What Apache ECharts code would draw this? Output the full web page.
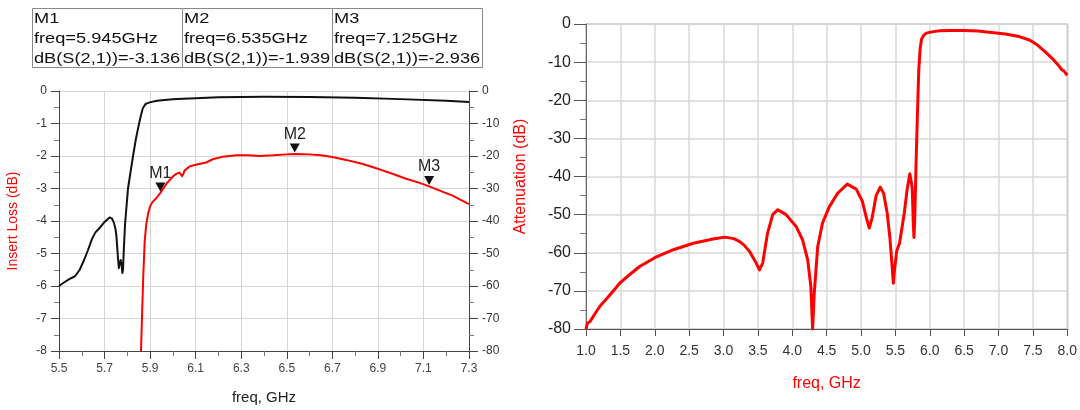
<!DOCTYPE html>
<html>
<head>
<meta charset="utf-8">
<script src="https://cdn.jsdelivr.net/npm/echarts@6/dist/echarts.min.js"></script>
<style>
  html, body { margin: 0; padding: 0; background: #fff; }
  #chart { width: 1080px; height: 410px; }
</style>
</head>
<body>
<div id="chart"></div>
<script>
// ---------------- data ----------------
// Left chart: insertion loss dB(S(2,1)) (red, left axis)
const ilFreq = [5.860, 5.865, 5.870, 5.876, 5.883, 5.891, 5.900, 5.910, 5.927, 5.945, 5.971, 6.000, 6.015, 6.029, 6.036, 6.041, 6.046, 6.051, 6.073, 6.100, 6.146, 6.175, 6.219, 6.278, 6.330, 6.380, 6.440, 6.500, 6.535, 6.600, 6.650, 6.700, 6.760, 6.830, 6.907, 6.970, 7.024, 7.080, 7.125, 7.180, 7.228, 7.270, 7.300];
const ilValues = [-8.0, -6.8, -5.7, -4.65, -4.1, -3.78, -3.55, -3.42, -3.3, -3.136, -2.86, -2.63, -2.55, -2.51, -2.53, -2.62, -2.55, -2.45, -2.32, -2.27, -2.2, -2.1, -2.02, -1.98, -1.98, -2.0, -1.98, -1.95, -1.939, -1.95, -1.98, -2.03, -2.12, -2.24, -2.41, -2.56, -2.70, -2.82, -2.936, -3.09, -3.22, -3.37, -3.48];

// Left chart: attenuation (black, right axis 0..-80)
const attLeftFreq = [5.500, 5.520, 5.547, 5.570, 5.591, 5.610, 5.627, 5.645, 5.660, 5.680, 5.700, 5.722, 5.733, 5.741, 5.748, 5.752, 5.759, 5.763, 5.767, 5.771, 5.775, 5.778, 5.781, 5.785, 5.790, 5.797, 5.803, 5.815, 5.825, 5.837, 5.847, 5.858, 5.868, 5.880, 5.898, 5.930, 5.964, 6.000, 6.044, 6.100, 6.200, 6.400, 6.600, 6.800, 7.000, 7.200, 7.300];
const attLeftValues = [-60.0, -59.0, -57.8, -57.0, -55.0, -52.0, -49.0, -45.5, -43.5, -42.0, -40.3, -38.9, -39.3, -40.5, -42.5, -44.5, -51.5, -54.5, -53.0, -52.0, -53.5, -56.0, -55.0, -48.0, -41.0, -35.0, -30.0, -24.5, -20.0, -15.0, -11.5, -8.0, -5.3, -4.0, -3.5, -3.0, -2.8, -2.55, -2.35, -2.2, -1.95, -1.8, -1.85, -2.1, -2.5, -3.0, -3.4];

// Right chart: attenuation (red) 1 - 8 GHz
const attFreq = [1.00, 1.02, 1.03, 1.06, 1.13, 1.20, 1.35, 1.49, 1.65, 1.78, 2.00, 2.27, 2.56, 2.85, 3.02, 3.15, 3.23, 3.30, 3.38, 3.475, 3.523, 3.57, 3.64, 3.716, 3.79, 3.91, 4.056, 4.15, 4.224, 4.27, 4.296, 4.32, 4.37, 4.44, 4.54, 4.66, 4.80, 4.93, 5.02, 5.08, 5.12, 5.16, 5.22, 5.28, 5.33, 5.38, 5.42, 5.45, 5.47, 5.49, 5.52, 5.56, 5.60, 5.63, 5.67, 5.71, 5.73, 5.745, 5.76, 5.77, 5.78, 5.79, 5.80, 5.82, 5.84, 5.86, 5.88, 5.91, 5.95, 6.05, 6.15, 6.30, 6.50, 6.70, 6.90, 7.10, 7.30, 7.45, 7.55, 7.68, 7.78, 7.87, 7.92, 7.95, 8.00];
const attValues = [-80.0, -78.5, -79.0, -78.0, -76.0, -74.1, -71.0, -68.0, -65.5, -63.6, -61.3, -59.2, -57.5, -56.4, -55.9, -56.3, -57.0, -58.0, -59.7, -62.7, -64.5, -62.7, -54.9, -50.0, -48.7, -50.0, -53.1, -56.6, -61.8, -68.8, -80.0, -70.6, -58.4, -52.2, -47.9, -44.4, -42.0, -43.3, -46.5, -51.0, -53.5, -51.0, -45.0, -42.8, -44.5, -49.5, -56.0, -63.0, -68.0, -64.0, -59.5, -57.5, -53.0, -49.5, -43.5, -39.3, -39.0, -43.0, -52.0, -56.0, -52.0, -45.0, -37.0, -24.0, -12.0, -6.5, -4.0, -3.0, -2.4, -2.0, -1.8, -1.7, -1.7, -1.85, -2.2, -2.6, -3.3, -4.2, -5.3, -7.3, -9.0, -10.8, -12.0, -12.3, -13.5];

// Markers
const markerNames = ['M1', 'M2', 'M3'];
const markerFreqs = [5.945, 6.535, 7.125];
const markerValues = [-3.136, -1.939, -2.936];

// ---------------- chart ----------------
const FONT = 'Arial, "Liberation Sans", sans-serif';
const toPairs = (xs, ys) => xs.map((x, i) => [x, ys[i]]);

const chart = echarts.init(document.getElementById('chart'), null, { renderer: 'canvas' });

// marker table (graphic text)
const cellX = [32, 182, 332];
const tableGraphics = [];
markerNames.forEach((n, i) => {
  tableGraphics.push({
    type: 'rect', left: cellX[i], top: 8,
    shape: { x: 0, y: 0, width: 150, height: 59 },
    style: { fill: '#fff', stroke: '#888', lineWidth: 1 }
  });
});
markerNames.forEach((n, i) => {
  tableGraphics.push({
    type: 'text', x: cellX[i] + 2, y: 8.5, scaleX: 1.19,
    style: {
      text: n + '\nfreq=' + markerFreqs[i].toFixed(3) + 'GHz\ndB(S(2,1))=' + markerValues[i].toFixed(3),
      fontFamily: FONT, fontSize: 15.3, lineHeight: 20, fill: '#111',
      verticalAlign: 'top', align: 'left'
    }
  });
});

const option = {
  animation: false,
  backgroundColor: '#fff',
  textStyle: { fontFamily: FONT },
  graphic: tableGraphics,
  grid: [
    { left: 59, top: 91, width: 410, height: 260, containLabel: false },
    { left: 586, top: 24, width: 483, height: 305, containLabel: false,
      show: true, borderColor: '#999', borderWidth: 1, backgroundColor: 'transparent' }
  ],
  xAxis: [
    {
      type: 'value', gridIndex: 0, min: 5.5, max: 7.3, interval: 0.2,
      name: 'freq, GHz', nameLocation: 'middle', nameGap: 39,
      nameTextStyle: { fontSize: 15, color: '#222', fontFamily: FONT },
      axisLine: { show: true, onZero: false, lineStyle: { color: '#444', width: 1 } },
      axisTick: { show: true, length: 8, lineStyle: { color: '#444' } },
      minorTick: { show: true, splitNumber: 2, length: 5, lineStyle: { color: '#777' } },
      splitLine: { show: true, lineStyle: { color: '#d6d6d6', width: 1 } },
      axisLabel: { fontSize: 12, color: '#444', margin: 12, formatter: v => v.toFixed(1), fontFamily: FONT }
    },
    {
      type: 'value', gridIndex: 1, min: 1, max: 8, interval: 0.5,
      name: 'freq, GHz', nameLocation: 'middle', nameGap: 47,
      nameTextStyle: { fontSize: 16, color: '#ff0000', fontFamily: FONT },
      axisLine: { show: true, onZero: false, lineStyle: { color: '#555', width: 1 } },
      axisTick: { show: true, length: 7, lineStyle: { color: '#555' } },
      splitLine: { show: true, lineStyle: { color: '#d9d9d9', width: 1.5 } },
      axisLabel: { fontSize: 14, color: '#333', margin: 15, formatter: v => v.toFixed(1), fontFamily: FONT }
    }
  ],
  yAxis: [
    {
      type: 'value', gridIndex: 0, position: 'left', min: -8, max: 0, interval: 1,
      name: 'Insert Loss (dB)', nameLocation: 'middle', nameGap: 39, nameRotate: 90,
      nameTextStyle: { fontSize: 14, color: '#ff0000', fontFamily: FONT },
      axisLine: { show: true, onZero: false, lineStyle: { color: '#444', width: 1 } },
      axisTick: { show: true, length: 8, lineStyle: { color: '#444' } },
      minorTick: { show: true, splitNumber: 2, length: 5, lineStyle: { color: '#777' } },
      splitLine: { show: true, lineStyle: { color: '#d6d6d6', width: 1 } },
      axisLabel: { fontSize: 12, color: '#333', margin: 12, fontFamily: FONT }
    },
    {
      type: 'value', gridIndex: 0, position: 'right', min: -80, max: 0, interval: 10,
      axisLine: { show: true, onZero: false, lineStyle: { color: '#444', width: 1 } },
      axisTick: { show: true, length: 9, lineStyle: { color: '#444' } },
      minorTick: { show: true, splitNumber: 2, length: 5, lineStyle: { color: '#777' } },
      splitLine: { show: false },
      axisLabel: { fontSize: 12, color: '#333', margin: 13, fontFamily: FONT }
    },
    {
      type: 'value', gridIndex: 1, position: 'left', min: -80, max: 0, interval: 10,
      name: 'Attenuation (dB)', nameLocation: 'middle', nameGap: 57, nameRotate: 90,
      nameTextStyle: { fontSize: 16, color: '#ff0000', fontFamily: FONT },
      axisLine: { show: true, onZero: false, lineStyle: { color: '#666', width: 1 } },
      axisTick: { show: true, length: 12, lineStyle: { color: '#555' } },
      minorTick: { show: true, splitNumber: 2, length: 6, lineStyle: { color: '#777' } },
      splitLine: { show: true, lineStyle: { color: '#d9d9d9', width: 1.5 } },
      axisLabel: { fontSize: 16, color: '#222', margin: 15, fontFamily: FONT }
    }
  ],
  series: [
    {
      name: 'Attenuation (left)', type: 'line', xAxisIndex: 0, yAxisIndex: 1,
      data: toPairs(attLeftFreq, attLeftValues),
      showSymbol: false, symbol: 'none', smooth: false, clip: true, z: 3,
      lineStyle: { color: '#111', width: 2, join: 'round' }
    },
    {
      name: 'dB(S(2,1))', type: 'line', xAxisIndex: 0, yAxisIndex: 0,
      data: toPairs(ilFreq, ilValues),
      showSymbol: false, symbol: 'none', smooth: false, clip: true, z: 4,
      lineStyle: { color: '#ff0000', width: 2, join: 'round' },
      markPoint: {
        symbol: 'path://M0,0L10,0L5,9Z',
        symbolSize: [10, 9],
        symbolOffset: [0, -6],
        itemStyle: { color: '#111' },
        label: { show: true, position: 'top', distance: 1, formatter: '{b}', color: '#222', fontSize: 16, fontFamily: FONT },
        data: markerNames.map((n, i) => ({ name: n, coord: [markerFreqs[i], markerValues[i]] }))
      }
    },
    {
      name: 'Attenuation', type: 'line', xAxisIndex: 1, yAxisIndex: 2,
      data: toPairs(attFreq, attValues),
      showSymbol: false, symbol: 'none', smooth: false, clip: true, z: 4,
      lineStyle: { color: '#ff0000', width: 3, join: 'round' }
    }
  ]
};
chart.setOption(option);
</script>
</body>
</html>
